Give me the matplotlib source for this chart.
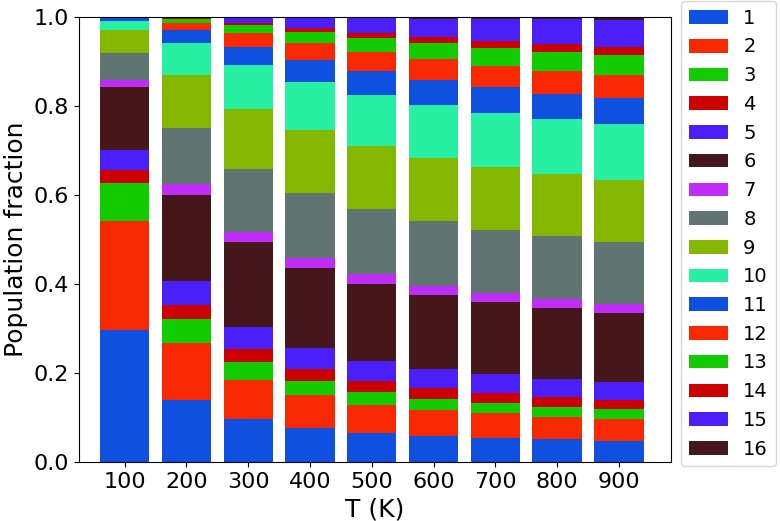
import matplotlib
matplotlib.use("Agg")
import matplotlib.pyplot as plt
import numpy as np

temps = [100, 200, 300, 400, 500, 600, 700, 800, 900]
labels = [str(i) for i in range(1, 17)]

s1 = [0.297, 0.140, 0.096, 0.076, 0.065, 0.059, 0.055, 0.051, 0.048]
s2 = [0.245, 0.127, 0.089, 0.074, 0.064, 0.057, 0.054, 0.050, 0.049]
s3 = [0.084, 0.054, 0.040, 0.032, 0.029, 0.026, 0.024, 0.023, 0.021]
s4 = [0.031, 0.031, 0.029, 0.026, 0.024, 0.024, 0.021, 0.023, 0.022]
s5 = [0.044, 0.055, 0.050, 0.048, 0.046, 0.043, 0.043, 0.040, 0.040]
s6 = [0.142, 0.194, 0.190, 0.180, 0.173, 0.166, 0.162, 0.158, 0.155]
s7 = [0.015, 0.023, 0.022, 0.022, 0.021, 0.021, 0.021, 0.021, 0.019]
s8 = [0.061, 0.127, 0.142, 0.146, 0.146, 0.145, 0.142, 0.142, 0.140]
s9 = [0.052, 0.118, 0.136, 0.141, 0.141, 0.142, 0.142, 0.140, 0.140]
s10 = [0.020, 0.073, 0.099, 0.110, 0.116, 0.119, 0.121, 0.123, 0.125]
s11 = [0.006, 0.028, 0.040, 0.049, 0.053, 0.056, 0.057, 0.057, 0.058]
s12 = [0.001, 0.016, 0.030, 0.038, 0.044, 0.047, 0.049, 0.051, 0.052]
s13 = [0.001, 0.010, 0.018, 0.025, 0.031, 0.036, 0.040, 0.043, 0.045]
s14 = [0.000, 0.001, 0.005, 0.009, 0.011, 0.013, 0.015, 0.018, 0.018]
s15 = [0.001, 0.003, 0.013, 0.022, 0.033, 0.042, 0.049, 0.055, 0.062]
s16 = [0.000, 0.000, 0.001, 0.002, 0.003, 0.004, 0.005, 0.005, 0.006]

series = [s1, s2, s3, s4, s5, s6, s7, s8, s9, s10, s11, s12, s13, s14, s15, s16]

palette = ["#0F50E0", "#F82800", "#12CC00", "#CC0000", "#4A1FFA",
           "#46171A", "#C02CF8", "#607571", "#84B800", "#27F0A2"]

plt.rcParams['font.family'] = ['DejaVu Sans']
plt.rcParams['font.size'] = 14

fig = plt.figure(figsize=(7.8, 5.21), dpi=100)
ax = fig.add_axes([79/780, 1 - 462/521, (671 - 79)/780, (462 - 17)/521])

bottom = np.zeros(len(temps))
handles = []
for i, vals in enumerate(series):
    b = ax.bar(temps, vals, width=80, bottom=bottom,
               color=palette[i % len(palette)], label=labels[i], linewidth=0)
    handles.append(b)
    bottom += np.array(vals)

ax.set_xlim(26, 984.5)
ax.set_ylim(0, 1.0)
ax.set_xticks(temps)
ax.set_xlabel("T (K)", fontsize=18)
ax.set_ylabel("Population fraction", fontsize=18)
ax.tick_params(labelsize=16)

fig.legend(handles=handles, labels=labels, loc="upper left",
           bbox_to_anchor=(681/780, 1 - 1/521), fontsize=14,
           borderaxespad=0.0)

fig.savefig("out.png", dpi=100)
